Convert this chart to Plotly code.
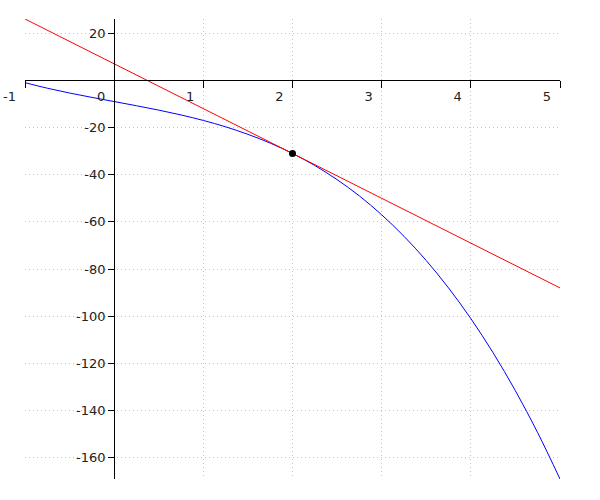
import plotly.graph_objects as go

# Blue curve
curve_x = [-1, -0.75, -0.5, -0.25, 0, 0.25, 0.5, 0.75, 1, 1.25, 1.5, 1.75, 2,
           2.25, 2.5, 2.75, 3, 3.25, 3.5, 3.75, 4, 4.25, 4.5, 4.75, 5]
curve_y = [-1, -3.33, -5.38, -7.23, -9, -10.77, -12.63, -14.67, -17, -19.7, -22.9,
           -26.6, -31, -36.1, -42.1, -49.0, -57, -66.1, -76.4, -88.0, -101, -115.5,
           -131.6, -149.4, -169]

# Red tangent line
tangent_x = [-1, 5]
tangent_y = [26, -88]

# Tangent point
point_x = [2]
point_y = [-31]

x_ticks = [-1, 0, 1, 2, 3, 4, 5]
x_labels = ["-1", "0", "1", "2", "3", "4", "5"]
y_ticks = [20, -20, -40, -60, -80, -100, -120, -140, -160]
y_labels = ["20", "-20", "-40", "-60", "-80", "-100", "-120", "-140", "-160"]
x_range = [-1, 5]
y_range = [-169, 26]

fig = go.Figure()
fig.add_trace(go.Scatter(x=curve_x, y=curve_y, mode="lines", line=dict(color="blue", width=1, shape="spline"), hoverinfo="skip"))
fig.add_trace(go.Scatter(x=tangent_x, y=tangent_y, mode="lines", line=dict(color="red", width=1), hoverinfo="skip"))
fig.add_trace(go.Scatter(x=point_x, y=point_y, mode="markers", marker=dict(color="black", size=7), hoverinfo="skip"))

xpos = (0 - y_range[0]) / (y_range[1] - y_range[0])
ypos = (0 - x_range[0]) / (x_range[1] - x_range[0])

grid = dict(showgrid=True, gridcolor="#c4c4c4", griddash="1px,3px", gridwidth=1)

fig.update_layout(
    width=600, height=500,
    margin=dict(l=25, r=40, t=19, b=21, autoexpand=False),
    paper_bgcolor="white", plot_bgcolor="white",
    showlegend=False,
    font=dict(family="DejaVu Sans", size=13, color="#222"),
    xaxis=dict(range=x_range, tickvals=x_ticks, ticktext=x_labels, ticks="outside", ticklen=7, tickcolor="black",
               showline=True, linecolor="black", linewidth=1, zeroline=False, automargin=False,
               anchor="free", position=xpos, ticklabelposition="outside left",
               ticklabelshift=-8, ticklabelstandoff=4, **grid),
    yaxis=dict(range=y_range, tickvals=y_ticks, ticktext=y_labels, ticks="outside", ticklen=6, tickcolor="black",
               showline=True, linecolor="black", linewidth=1, zeroline=False, automargin=False,
               anchor="free", position=ypos, **grid),
)

fig.write_html("out.html")
